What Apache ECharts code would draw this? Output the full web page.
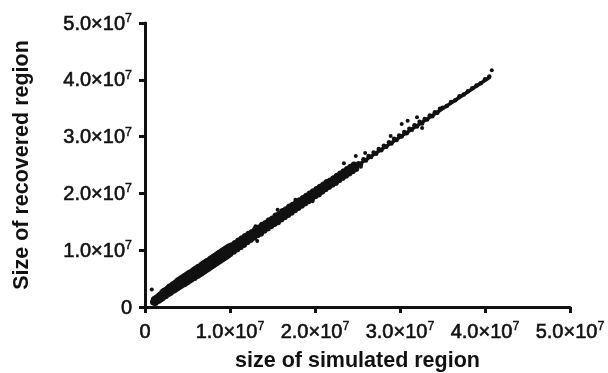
<!DOCTYPE html>
<html>
<head>
<meta charset="utf-8">
<script src="https://cdn.jsdelivr.net/npm/echarts@6/dist/echarts.min.js"></script>
<style>
html,body{margin:0;padding:0;background:#fff;}
#chart{width:608px;height:373px;}
</style>
</head>
<body>
<div id="chart"></div>
<script>
// values in units of 1e6
const xTickValues = [0, 10, 20, 30, 40, 50];
const yTickValues = [0, 10, 20, 30, 40, 50];
const xAxisTitle = 'size of simulated region';
const yAxisTitle = 'Size of recovered region';

const pointsLow = [
[1.0,0.9],[1.1,1.3],[1.2,0.8],[1.3,1.5],[1.4,1.1],[1.5,1.7],[1.6,1.2],[1.7,2.0],[1.8,1.4],[1.9,2.2],
[2.0,1.6],[2.1,2.6],[2.2,1.9],[2.3,2.8],[2.4,2.0],[2.5,2.9],[2.6,2.3],[2.7,3.2],[2.8,2.4],[2.9,3.5],
[3.0,2.6],[3.1,3.6],[3.2,2.9],[3.3,3.9],[3.4,3.0],[3.5,4.1],[3.6,3.2],[3.7,4.3],[3.8,3.4],[3.9,4.6],
[4.0,3.6],[4.1,4.8],[4.2,3.8],[4.3,5.0],[4.4,4.0],[4.5,5.2],[4.6,4.1],[4.7,5.4],[4.8,4.3],[4.9,5.6],
[5.0,4.5],[5.1,5.8],[5.2,4.7],[5.3,6.0],[5.4,4.9],[5.5,6.1],[5.6,5.1],[5.7,6.4],[5.8,5.2],[5.9,6.6],
[6.0,5.5],[6.1,6.8],[6.2,5.6],[6.3,7.0],[6.4,5.8],[6.5,7.1],[6.6,6.0],[6.7,7.4],[6.8,6.2],[6.9,7.6],
[7.0,6.4],[7.1,7.8],[7.2,6.6],[7.3,8.0],[7.4,6.8],[7.5,8.1],[7.6,7.0],[7.7,8.4],[7.8,7.2],[7.9,8.6],
[8.0,7.4],[8.1,8.8],[8.2,7.6],[8.3,9.0],[8.4,7.8],[8.5,9.2],[8.6,8.0],[8.7,9.4],[8.8,8.2],[8.9,9.6],
[9.0,8.4],[9.1,9.8],[9.2,8.6],[9.3,10.0],[9.4,8.8],[9.5,10.2],[9.6,9.0],[9.7,10.4],[9.8,9.2],[9.9,10.6],
[10.0,9.4],[10.2,10.8],[10.4,9.8],[10.6,11.2],[10.8,10.2],[11.0,11.6],[11.2,10.6],[11.4,12.0],[11.6,11.0],[11.8,12.4]
];
const pointsMid = [
[12.0,11.5],[12.2,12.8],[12.4,11.9],[12.6,13.1],[12.8,12.3],[13.0,13.6],[13.2,12.7],[13.4,13.9],[13.6,13.0],[13.8,14.4],
[14.0,13.5],[14.2,14.7],[14.4,13.9],[14.6,15.2],[14.8,14.3],[15.0,15.5],[15.2,14.7],[15.4,16.0],[15.6,15.0],[15.8,16.3],
[16.0,15.5],[16.2,16.8],[16.4,15.9],[16.6,17.1],[16.8,16.3],[17.0,17.6],[17.2,16.7],[17.4,17.9],[17.6,17.1],[17.8,18.3],
[18.0,17.5],[18.2,18.7],[18.4,17.9],[18.6,19.1],[18.8,18.3],[19.0,19.5],[19.2,18.7],[19.4,19.9],[19.6,19.1],[19.8,20.3],
[20.0,19.6],[20.2,20.7],[20.4,19.9],[20.6,21.1],[20.8,20.4],[21.0,21.5],[21.2,20.8],[21.4,21.9],[21.6,21.2],[21.8,22.2],
[22.0,21.6],[22.2,22.6],[22.4,21.9],[22.6,23.0],[22.8,22.4],[23.0,23.4],[23.2,22.8],[23.4,23.8],[23.6,23.2],[23.8,24.2],
[24.0,23.6],[24.2,24.6],[24.4,24.0],[24.6,25.0],[24.8,24.4]
];
const pointsHigh = [
[25.1,25.3],[25.4,25.1],[25.7,26.0],[26.0,25.8],[26.3,26.6],[26.6,26.4],[26.9,27.2],[27.2,27.0],[27.5,27.8],[27.8,27.6],
[28.1,28.4],[28.4,28.2],[28.7,29.0],[29.0,28.8],[29.3,29.6],[29.6,29.4],[29.9,30.2],[30.2,30.0],[30.5,30.8],[30.8,30.6],
[31.1,31.4],[31.4,31.2],[31.7,32.0],[32.0,31.8],[32.3,32.6],[32.6,32.3],[32.9,33.1],[33.2,33.0],[33.5,33.7],[33.8,33.6],
[34.1,34.3],[34.4,34.2],[34.7,34.9],
[35.0,35.1],[35.5,35.4],[36.0,36.1],[36.5,36.4],[37.0,37.1],[37.5,37.4],[38.0,38.0],[38.5,38.5],[39.0,39.0],[39.5,39.4],
[40.0,40.1],[40.5,40.6]
];
const outliers = [
[0.8,3.1],[7.7,8.6],[13.0,14.2],[13.2,11.6],[15.6,17.1],[17.7,18.9],[19.7,18.6],
[23.4,25.3],[24.8,26.6],[25.4,24.7],[25.9,27.1],[28.9,30.1],[30.2,32.2],[30.9,32.8],[32.0,33.4],[32.6,31.5],[40.8,41.7]
];
const fitLine = [[0.9,0.9],[40.6,40.5]];

function sciLabel(v){
  if (v === 0) return '{b|0}';
  const m = (v/10).toFixed(1);
  return '{b|' + m + '×10}{s|7}';
}
const richLab = {
  b: {fontSize: 20, fontFamily: 'Liberation Sans', color: '#111', lineHeight: 22, verticalAlign: 'bottom',
      textBorderColor: '#111', textBorderWidth: 0.6},
  s: {fontSize: 12.5, fontFamily: 'Liberation Sans', color: '#111', lineHeight: 12, verticalAlign: 'top',
      textBorderColor: '#111', textBorderWidth: 0.4}
};

const axisCommon = {
  type: 'value', min: 0, max: 50, interval: 10,
  splitLine: {show: false},
  axisLine: {show: true, onZero: false, lineStyle: {color: '#111', width: 3}},
  axisTick: {show: true, length: 6, inside: false, lineStyle: {color: '#111', width: 3}},
  nameTextStyle: {fontFamily: 'Liberation Sans', fontWeight: 'bold', fontSize: 21.5, color: '#111'}
};

const chart = echarts.init(document.getElementById('chart'), null, {renderer: 'canvas'});
chart.setOption({
  animation: false,
  backgroundColor: '#fff',
  grid: {left: 145, right: 38, top: 23, bottom: 66, containLabel: false, outerBoundsMode: 'none'},
  xAxis: Object.assign({}, axisCommon, {
    name: xAxisTitle, nameLocation: 'middle', nameGap: 43,
    axisLabel: {margin: 13, formatter: sciLabel, rich: richLab, customValues: xTickValues}
  }),
  yAxis: Object.assign({}, axisCommon, {
    name: yAxisTitle, nameLocation: 'middle', nameGap: 112, nameRotate: 90,
    axisLabel: {margin: 13, formatter: sciLabel, rich: richLab, customValues: yTickValues}
  }),
  series: [
    {type: 'scatter', data: pointsLow, symbolSize: 7, itemStyle: {color: '#111', opacity: 1}},
    {type: 'scatter', data: pointsMid, symbolSize: 7, itemStyle: {color: '#111', opacity: 1}},
    {type: 'scatter', data: pointsHigh, symbolSize: 4.5, itemStyle: {color: '#111', opacity: 1}},
    {type: 'scatter', data: outliers, symbolSize: 4, itemStyle: {color: '#111', opacity: 1}},
    {type: 'line', data: fitLine, symbol: 'none', lineStyle: {color: '#111', width: 3.5}, z: 3}
  ]
});
</script>
</body>
</html>
